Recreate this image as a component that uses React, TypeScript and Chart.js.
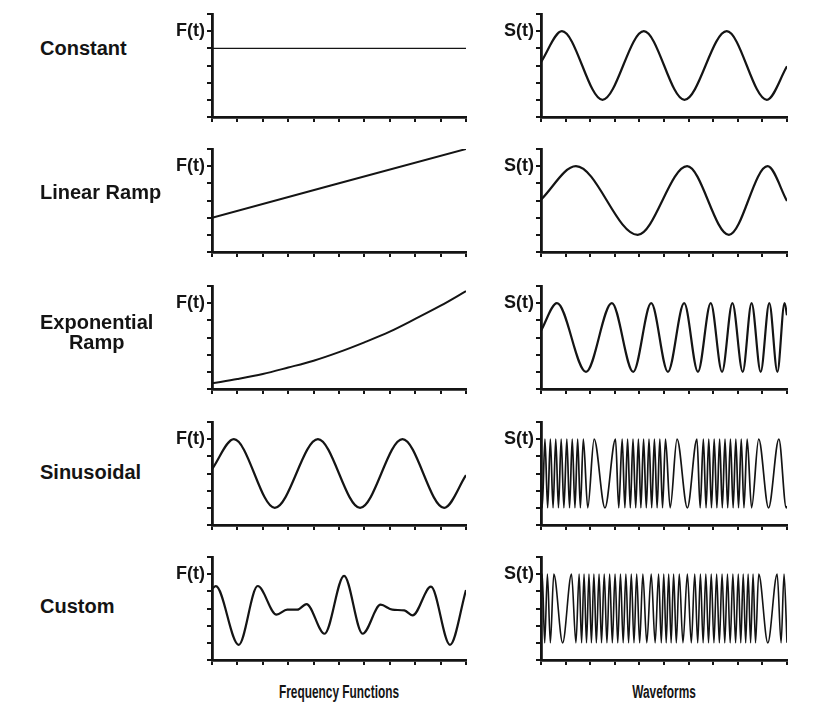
import React, { useEffect, useRef } from 'react';
import { Chart, registerables } from 'chart.js';

Chart.register(...registerables);

// ---------- axis ticks ----------
const X_TICKS = [0, 1, 2, 3, 4, 5, 6, 7, 8, 9, 10];
const Y_TICKS = [0, 1, 2, 3, 4, 5, 6];
const PEAK = 5;
const TROUGH = 1;

// ---------- frequency functions F(t) ----------
const F1_X = [0, 10];
const F1_Y = [4, 4];

const F2_X = [0, 10];
const F2_Y = [2.0, 6.0];

const F3_X = [0, 1, 2, 3, 4, 5, 6, 7, 8, 9, 10];
const F3_Y = [0.33, 0.58, 0.87, 1.25, 1.65, 2.15, 2.72, 3.34, 4.08, 4.85, 5.7];

const F4_X = [0, 0.86, 2.47, 4.17, 5.83, 7.5, 9.14, 10];
const F4_Y = [3.25, 5, 1, 5, 1, 5, 1, 2.9];

const F5_X = [0, 0.15, 1.05, 1.8, 2.54, 2.96, 3.36, 3.72, 4.43, 5.2, 5.93, 6.64, 7.1, 7.57, 7.9, 8.62, 9.37, 10];
const F5_Y = [4.15, 4.3, 0.88, 4.31, 2.64, 2.93, 2.93, 3.26, 1.53, 4.9, 1.53, 3.22, 2.93, 2.89, 2.6, 4.27, 0.88, 4.08];

// ---------- waveforms S(t) ----------
const S1_X = [0, 0.85, 2.5, 4.18, 5.83, 7.55, 9.18, 10];
const S1_Y = [3.2, 5, 1, 5, 1, 5, 1, 2.95];

const S2_X = [0, 1.42, 3.93, 5.94, 7.64, 9.21, 10];
const S2_Y = [3.05, 5, 1, 5, 1, 5, 2.97];

const S3_START = 3.4;
const S3_PEAKS = [0.65, 2.88, 4.48, 5.82, 6.9, 7.78, 8.56, 9.28, 9.9];
const S3_TROUGHS = [1.83, 3.75, 5.16, 6.38, 7.36, 8.2, 8.93, 9.61];
const S3_END = 4.3;

const S4_START = 3.0;
const S4_PEAKS = [0.16, 0.38, 0.6, 0.82, 1.05, 1.27, 1.49, 1.72, 2.16, 3.03, 3.3, 3.52, 3.74, 3.96, 4.17, 4.39, 4.61, 4.83, 5.06, 5.53, 6.34, 6.6, 6.82, 7.04, 7.26, 7.48, 7.7, 7.92, 8.14, 8.38, 8.85, 9.67];
const S4_TROUGHS = [0.05, 0.27, 0.49, 0.71, 0.93, 1.16, 1.38, 1.6, 1.9, 2.6, 3.16, 3.41, 3.63, 3.85, 4.06, 4.28, 4.5, 4.72, 4.94, 5.25, 5.95, 6.47, 6.71, 6.93, 7.15, 7.37, 7.59, 7.81, 8.03, 8.25, 8.56, 9.25, 9.97];
const S4_END = 1.1;

const S5_START = 3.0;
const S5_PEAKS = [0.05, 0.26, 0.52, 1.24, 1.55, 1.75, 1.95, 2.15, 2.36, 2.57, 2.79, 3.01, 3.23, 3.45, 3.67, 3.89, 4.14, 4.48, 4.78, 4.99, 5.19, 5.39, 5.62, 5.95, 6.25, 6.48, 6.7, 6.92, 7.14, 7.36, 7.58, 7.8, 8.02, 8.22, 8.42, 8.62, 8.85, 9.6, 9.88];
const S5_TROUGHS = [0.15, 0.38, 0.88, 1.42, 1.65, 1.85, 2.05, 2.25, 2.46, 2.68, 2.9, 3.12, 3.34, 3.56, 3.78, 4.01, 4.3, 4.64, 4.89, 5.09, 5.29, 5.5, 5.77, 6.11, 6.37, 6.59, 6.81, 7.03, 7.25, 7.47, 7.69, 7.91, 8.12, 8.32, 8.52, 8.72, 9.22, 9.76];
const S5_END = 1.0;

// ---------- text ----------
const ROW_LABELS = ['Constant', 'Linear Ramp', 'Exponential', 'Sinusoidal', 'Custom'];
const ROW_LABEL_2 = ['', '', 'Ramp', '', ''];
const LEFT_AXIS_LABEL = 'F(t)';
const RIGHT_AXIS_LABEL = 'S(t)';
const BOTTOM_LEFT = 'Frequency Functions';
const BOTTOM_RIGHT = 'Waveforms';

type Pt = { x: number; y: number };

function pairs(xs: number[], ys: number[]): Pt[] {
  return xs.map((x, i) => ({ x, y: ys[i] }));
}

function wave(start: number, peaks: number[], troughs: number[], end: number): Pt[] {
  const pts: Pt[] = [{ x: 0, y: start }];
  peaks.forEach((x) => pts.push({ x, y: PEAK }));
  troughs.forEach((x) => pts.push({ x, y: TROUGH }));
  pts.push({ x: 10, y: end });
  return pts.sort((a, b) => a.x - b.x);
}

const FONT = "'Liberation Sans', Arial, Helvetica, sans-serif";
const INK = '#141414';

// layout
const ROW_TOPS = [14, 149, 286, 422, 557];
const LABEL_CENTERS = [48, 192, 322, 472, 606];
const PLOT_H = 103;
const LEFT_X = 212;
const LEFT_W = 254;
const RIGHT_X = 541;
const RIGHT_W = 246;
const YW = 60;
const PAD_T = 8;
const PAD_R = 6;
const XH = 8;

function Panel(props: { left: number; top: number; width: number; data: Pt[]; label: string; lw: number }) {
  const ref = useRef<HTMLCanvasElement>(null);
  const { left, top, width, data, label, lw } = props;
  const cw = YW + width + PAD_R;
  const ch = PAD_T + PLOT_H + XH;
  useEffect(() => {
    const chart = new Chart(ref.current as HTMLCanvasElement, {
      type: 'line',
      data: {
        datasets: [
          {
            data,
            borderColor: INK,
            borderWidth: lw,
            pointRadius: 0,
            fill: false,
            cubicInterpolationMode: 'monotone',
          } as any,
        ],
      },
      options: {
        animation: false,
        responsive: false,
        events: [],
        layout: { padding: { left: 0, top: PAD_T, right: PAD_R, bottom: 0 } },
        plugins: { legend: { display: false }, tooltip: { enabled: false }, title: { display: false } },
        scales: {
          x: {
            type: 'linear',
            min: 0,
            max: 10,
            afterBuildTicks: (s: any) => {
              s.ticks = X_TICKS.map((v) => ({ value: v }));
            },
            afterFit: (s: any) => {
              s.height = XH;
              s.paddingLeft = 0;
              s.paddingRight = 0;
            },
            ticks: { display: false },
            grid: { drawOnChartArea: false, drawTicks: true, tickLength: 5, lineWidth: 2, color: INK },
            border: { display: true, width: 2.8, color: INK },
          },
          y: {
            type: 'linear',
            min: 0,
            max: 6,
            afterBuildTicks: (s: any) => {
              s.ticks = Y_TICKS.map((v) => ({ value: v }));
            },
            afterFit: (s: any) => {
              s.width = YW;
              s.paddingTop = 0;
              s.paddingBottom = 0;
            },
            ticks: {
              autoSkip: false,
              padding: 2,
              color: INK,
              font: { family: FONT, size: 18, weight: 'bold' },
              callback: (v: any) => (Number(v) === 5 ? label : ''),
            },
            grid: { drawOnChartArea: false, drawTicks: true, tickLength: 5, lineWidth: 2, color: INK },
            border: { display: true, width: 2.8, color: INK },
          },
        },
      } as any,
    });
    return () => chart.destroy();
  }, []);
  return (
    <canvas
      ref={ref}
      width={cw}
      height={ch}
      style={{ position: 'absolute', left: left - YW, top: top - PAD_T, width: cw, height: ch }}
    />
  );
}

const LEFT_DATA: Pt[][] = [
  pairs(F1_X, F1_Y),
  pairs(F2_X, F2_Y),
  pairs(F3_X, F3_Y),
  pairs(F4_X, F4_Y),
  pairs(F5_X, F5_Y),
];
const RIGHT_DATA: Pt[][] = [
  pairs(S1_X, S1_Y),
  pairs(S2_X, S2_Y),
  wave(S3_START, S3_PEAKS, S3_TROUGHS, S3_END),
  wave(S4_START, S4_PEAKS, S4_TROUGHS, S4_END),
  wave(S5_START, S5_PEAKS, S5_TROUGHS, S5_END),
];
const LEFT_LW = [1.4, 2, 2, 2.2, 2.2];
const RIGHT_LW = [2.2, 2.2, 2.2, 1.7, 1.6];

const titleStyle: React.CSSProperties = {
  position: 'absolute',
  top: 682,
  fontSize: 18,
  fontWeight: 'bold',
  lineHeight: '20px',
  whiteSpace: 'nowrap',
  transform: 'translateX(-50%) scaleX(0.66)',
  transformOrigin: '50% 50%',
};

export default function App() {
  return (
    <div
      style={{
        position: 'fixed',
        left: 0,
        top: 0,
        width: 814,
        height: 709,
        background: '#ffffff',
        overflow: 'hidden',
        fontFamily: FONT,
        color: INK,
      }}
    >
      {ROW_TOPS.map((t, i) => (
        <React.Fragment key={i}>
          <Panel left={LEFT_X} top={t} width={LEFT_W} data={LEFT_DATA[i]} label={LEFT_AXIS_LABEL} lw={LEFT_LW[i]} />
          <Panel left={RIGHT_X} top={t} width={RIGHT_W} data={RIGHT_DATA[i]} label={RIGHT_AXIS_LABEL} lw={RIGHT_LW[i]} />
          <div
            style={{
              position: 'absolute',
              left: 40,
              top: LABEL_CENTERS[i] - 10,
              fontSize: 20,
              fontWeight: 'bold',
              lineHeight: '20px',
              textAlign: 'center',
              whiteSpace: 'nowrap',
            }}
          >
            <div>{ROW_LABELS[i]}</div>
            {ROW_LABEL_2[i] ? <div>{ROW_LABEL_2[i]}</div> : null}
          </div>
        </React.Fragment>
      ))}
      <div style={{ ...titleStyle, left: LEFT_X + LEFT_W / 2 }}>{BOTTOM_LEFT}</div>
      <div style={{ ...titleStyle, left: RIGHT_X + RIGHT_W / 2 }}>{BOTTOM_RIGHT}</div>
    </div>
  );
}
